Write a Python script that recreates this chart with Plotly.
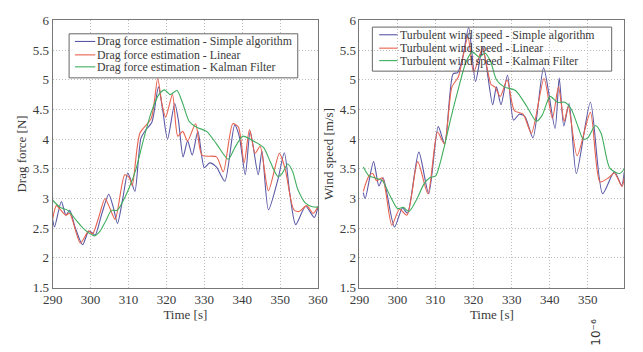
import plotly.graph_objects as go

# ---- Left: drag force ----
t_df_simple = [290, 290.5, 292.3, 293.5, 294.5, 296, 297.9, 299.5, 300.5, 301.2, 303, 304.8, 306, 307.1, 308.5, 309.8, 310.7, 311.7, 313.3, 314.5, 316.2, 317.9, 319, 320.3, 322.2, 323.2, 324.4, 325.6, 326.8, 328.3, 330, 331.4, 333.2, 335.4, 338, 339.2, 340.8, 342.1, 344.2, 345.2, 346.9, 349.4, 351.1, 352.5, 354.1, 356.7, 359, 360]
df_simple = [2.65, 2.52, 2.95, 2.72, 2.8, 2.5, 2.22, 2.45, 2.42, 2.38, 2.75, 3.07, 2.85, 2.58, 3.0, 3.43, 3.3, 3.12, 4.02, 4.15, 4.29, 4.88, 4.5, 4.0, 4.6, 4.3, 3.7, 3.97, 3.73, 4.13, 3.52, 3.6, 3.53, 3.29, 4.24, 4.05, 3.4, 4.13, 3.4, 3.8, 2.81, 3.32, 3.77, 3.1, 2.56, 2.87, 2.68, 2.87]

t_df_linear = [290, 291, 292.5, 293.5, 294.5, 297.3, 299.5, 300.5, 302, 303.8, 305, 306.5, 309, 310.2, 311, 313, 316, 317.7, 318.8, 319.8, 321.6, 323, 324.3, 325.6, 327.7, 329.4, 333.2, 335, 337.5, 339, 340.5, 341.9, 343.4, 344.7, 346.9, 349.8, 351.3, 353.6, 355, 357, 358.7, 360]
df_linear = [2.65, 2.88, 2.78, 2.72, 2.75, 2.25, 2.45, 2.4, 2.65, 3.0, 2.85, 2.65, 3.4, 3.35, 3.22, 4.1, 4.35, 5.02, 4.6, 4.37, 4.75, 4.05, 4.13, 3.97, 4.26, 3.73, 3.7, 3.45, 4.26, 4.2, 3.6, 4.16, 3.76, 3.88, 3.13, 3.76, 3.5, 2.81, 2.78, 2.88, 2.75, 2.87]

t_df_kalman = [290, 292, 294, 296, 298, 300, 301, 302.5, 304, 305.5, 307, 308.5, 310, 312, 314, 316, 318, 319.5, 321, 322.8, 324.3, 326, 328, 330.6, 333.2, 336.3, 338, 340.1, 342.6, 345.6, 347.5, 349.4, 350.5, 352, 353.3, 354.6, 356.7, 358.5, 360]
df_kalman = [2.97, 2.85, 2.8, 2.65, 2.5, 2.4, 2.37, 2.45, 2.62, 2.8, 2.8, 2.95, 3.15, 3.5, 4.0, 4.45, 4.75, 4.83, 4.75, 4.82, 4.6, 4.3, 4.2, 4.13, 3.92, 3.66, 3.85, 4.05, 3.98, 3.86, 3.6, 3.37, 3.42, 3.58, 3.45, 3.16, 2.92, 2.86, 2.85]

# ---- Right: wind speed ----
t_ws_simple = [291, 291.5, 293.7, 295.1, 296.2, 299.2, 301.3, 302.6, 305.6, 308.2, 310.7, 312.4, 314.6, 315.8, 317.1, 318.7, 320.5, 322.4, 325, 326, 327.2, 328.9, 330.5, 332, 333.5, 335.6, 338.4, 341.4, 342.5, 343.7, 345.1, 347, 350.7, 353.9, 357, 358.9, 359.6]
ws_simple = [3.1, 3.0, 3.62, 3.21, 3.35, 2.52, 2.84, 2.75, 3.78, 3.08, 4.21, 3.92, 5.1, 5.12, 5.37, 5.88, 4.97, 5.55, 4.58, 4.88, 4.58, 5.08, 4.32, 4.42, 4.38, 4.02, 5.2, 4.18, 5.03, 4.22, 4.6, 3.42, 4.62, 3.08, 3.45, 3.22, 3.45]

t_ws_linear = [291, 292.5, 293.5, 294.5, 296, 298.5, 300.5, 302.5, 305.3, 308, 310.5, 312.3, 314.3, 316, 318.5, 320, 322.3, 324.6, 325.6, 327, 328.8, 330.7, 333, 335.2, 338.5, 340.7, 342.3, 343.8, 344.9, 347.2, 350.7, 353.2, 355.5, 357, 359, 359.6]
ws_linear = [3.12, 3.38, 3.42, 3.3, 3.35, 2.55, 2.82, 2.72, 3.62, 3.08, 4.12, 3.92, 4.88, 5.05, 5.72, 5.13, 5.52, 4.92, 4.88, 4.72, 5.0, 4.48, 4.42, 4.1, 5.02, 4.35, 4.88, 4.3, 4.55, 3.72, 4.45, 3.28, 3.35, 3.43, 3.2, 3.35]

t_ws_kalman = [291, 292.5, 294, 296, 298, 300, 301.5, 303, 305, 307, 308.5, 310, 312, 314, 316, 318, 319.7, 321.5, 323, 324.5, 326, 328, 331, 334, 336.5, 338, 340.1, 342, 344, 345.7, 347.5, 348.8, 350, 352, 353.5, 355.8, 358.4, 359.6]
ws_kalman = [3.53, 3.38, 3.35, 3.3, 3.05, 2.83, 2.85, 2.78, 2.98, 3.25, 3.35, 3.38, 3.8, 4.35, 4.85, 5.3, 5.47, 5.38, 5.45, 5.3, 5.0, 4.88, 4.82, 4.55, 4.3, 4.4, 4.72, 4.62, 4.62, 4.5, 4.2, 4.0, 4.02, 4.23, 4.1, 3.51, 3.42, 3.5]

y_ticks = [1.5, 2, 2.5, 3, 3.5, 4, 4.5, 5, 5.5, 6]
x_ticks_left = [290, 300, 310, 320, 330, 340, 350, 360]
x_ticks_right = [290, 300, 310, 320, 330, 340, 350]

names_left = ["Drag force estimation - Simple algorithm",
              "Drag force estimation - Linear",
              "Drag force estimation - Kalman Filter"]
names_right = ["Turbulent wind speed - Simple algorithm",
               "Turbulent wind speed - Linear",
               "Turbulent wind speed - Kalman Filter"]

BLUE = "#5a58a6"
RED = "#e8624e"
GREEN = "#3fae5e"
COLORS = [BLUE, RED, GREEN]
SERIF = "Liberation Serif"
TXT = "#3a3a3a"
W, H = 643, 352

fig = go.Figure()
for t, v, n, c in zip([t_df_simple, t_df_linear, t_df_kalman],
                      [df_simple, df_linear, df_kalman], names_left, COLORS):
    fig.add_trace(go.Scatter(x=t, y=v, name=n, mode="lines", showlegend=False,
                             line=dict(color=c, width=1.1, shape="spline", smoothing=0.7),
                             xaxis="x", yaxis="y"))
for t, v, n, c in zip([t_ws_simple, t_ws_linear, t_ws_kalman],
                      [ws_simple, ws_linear, ws_kalman], names_right, COLORS):
    fig.add_trace(go.Scatter(x=t, y=v, name=n, mode="lines", showlegend=False,
                             line=dict(color=c, width=1.1, shape="spline", smoothing=0.7),
                             xaxis="x2", yaxis="y2"))

axis_common = dict(showline=True, linecolor="#777", linewidth=1, mirror=True,
                   showgrid=True, gridcolor="#bdbdbd", griddash="1px,2px", gridwidth=1,
                   ticks="", zeroline=False,
                   tickfont=dict(family=SERIF, size=13, color=TXT))
title_font = dict(family=SERIF, size=13, color=TXT)

# manual compact legends (box, line samples, labels)
shapes = []
annotations = []

def add_legend(box, line_x, text_x, rows, names, bg):
    x0, y0, x1, y1 = box
    shapes.append(dict(type="rect", xref="paper", yref="paper",
                       x0=x0 / W, x1=x1 / W, y0=1 - y0 / H, y1=1 - y1 / H,
                       line=dict(color="#666", width=1), fillcolor=bg, layer="above"))
    for r, n, c in zip(rows, names, COLORS):
        shapes.append(dict(type="line", xref="paper", yref="paper",
                           x0=line_x[0] / W, x1=line_x[1] / W, y0=1 - r / H, y1=1 - r / H,
                           line=dict(color=c, width=1.1), layer="above"))
        annotations.append(dict(text=n, x=text_x / W, y=1 - r / H, xref="paper", yref="paper",
                                xanchor="left", yanchor="middle", showarrow=False,
                                font=dict(family=SERIF, size=11.8, color=TXT)))

add_legend((61, 28, 297, 74), (67, 88), 88, [36, 50, 62.5], names_left, "white")
add_legend((374, 21, 621, 67), (381, 400), 400, [29, 43, 56], names_right, "rgba(255,255,255,0)")

annotations.append(dict(text="10⁻⁶", x=604 / W, y=1 - 340 / H, xref="paper", yref="paper",
                        showarrow=False, textangle=-90, xanchor="center", yanchor="middle",
                        font=dict(family="DejaVu Sans", size=12, color="#333")))

fig.update_layout(
    width=W, height=H,
    margin=dict(l=0, r=0, t=0, b=0),
    paper_bgcolor="white", plot_bgcolor="white",
    font=dict(family=SERIF, color=TXT),
    showlegend=False,
    xaxis=dict(domain=[44 / W, 318 / W], range=[290, 360], tickvals=x_ticks_left,
               title=dict(text="Time [s]", font=title_font, standoff=2),
               anchor="y", **axis_common),
    yaxis=dict(domain=[1 - 293 / H, 1 - 14 / H], range=[1.5, 6], tickvals=y_ticks,
               title=dict(text="Drag force [N]", font=title_font, standoff=3),
               anchor="x", **axis_common),
    xaxis2=dict(domain=[360.7 / W, 634 / W], range=[290, 359.6], tickvals=x_ticks_right,
                title=dict(text="Time [s]", font=title_font, standoff=2),
                anchor="y2", **axis_common),
    yaxis2=dict(domain=[1 - 293 / H, 1 - 14 / H], range=[1.5, 6], tickvals=y_ticks,
                title=dict(text="Wind speed [m/s]", font=title_font, standoff=3),
                anchor="x2", **axis_common),
    shapes=shapes,
    annotations=annotations,
)

fig.write_html("out.html")
